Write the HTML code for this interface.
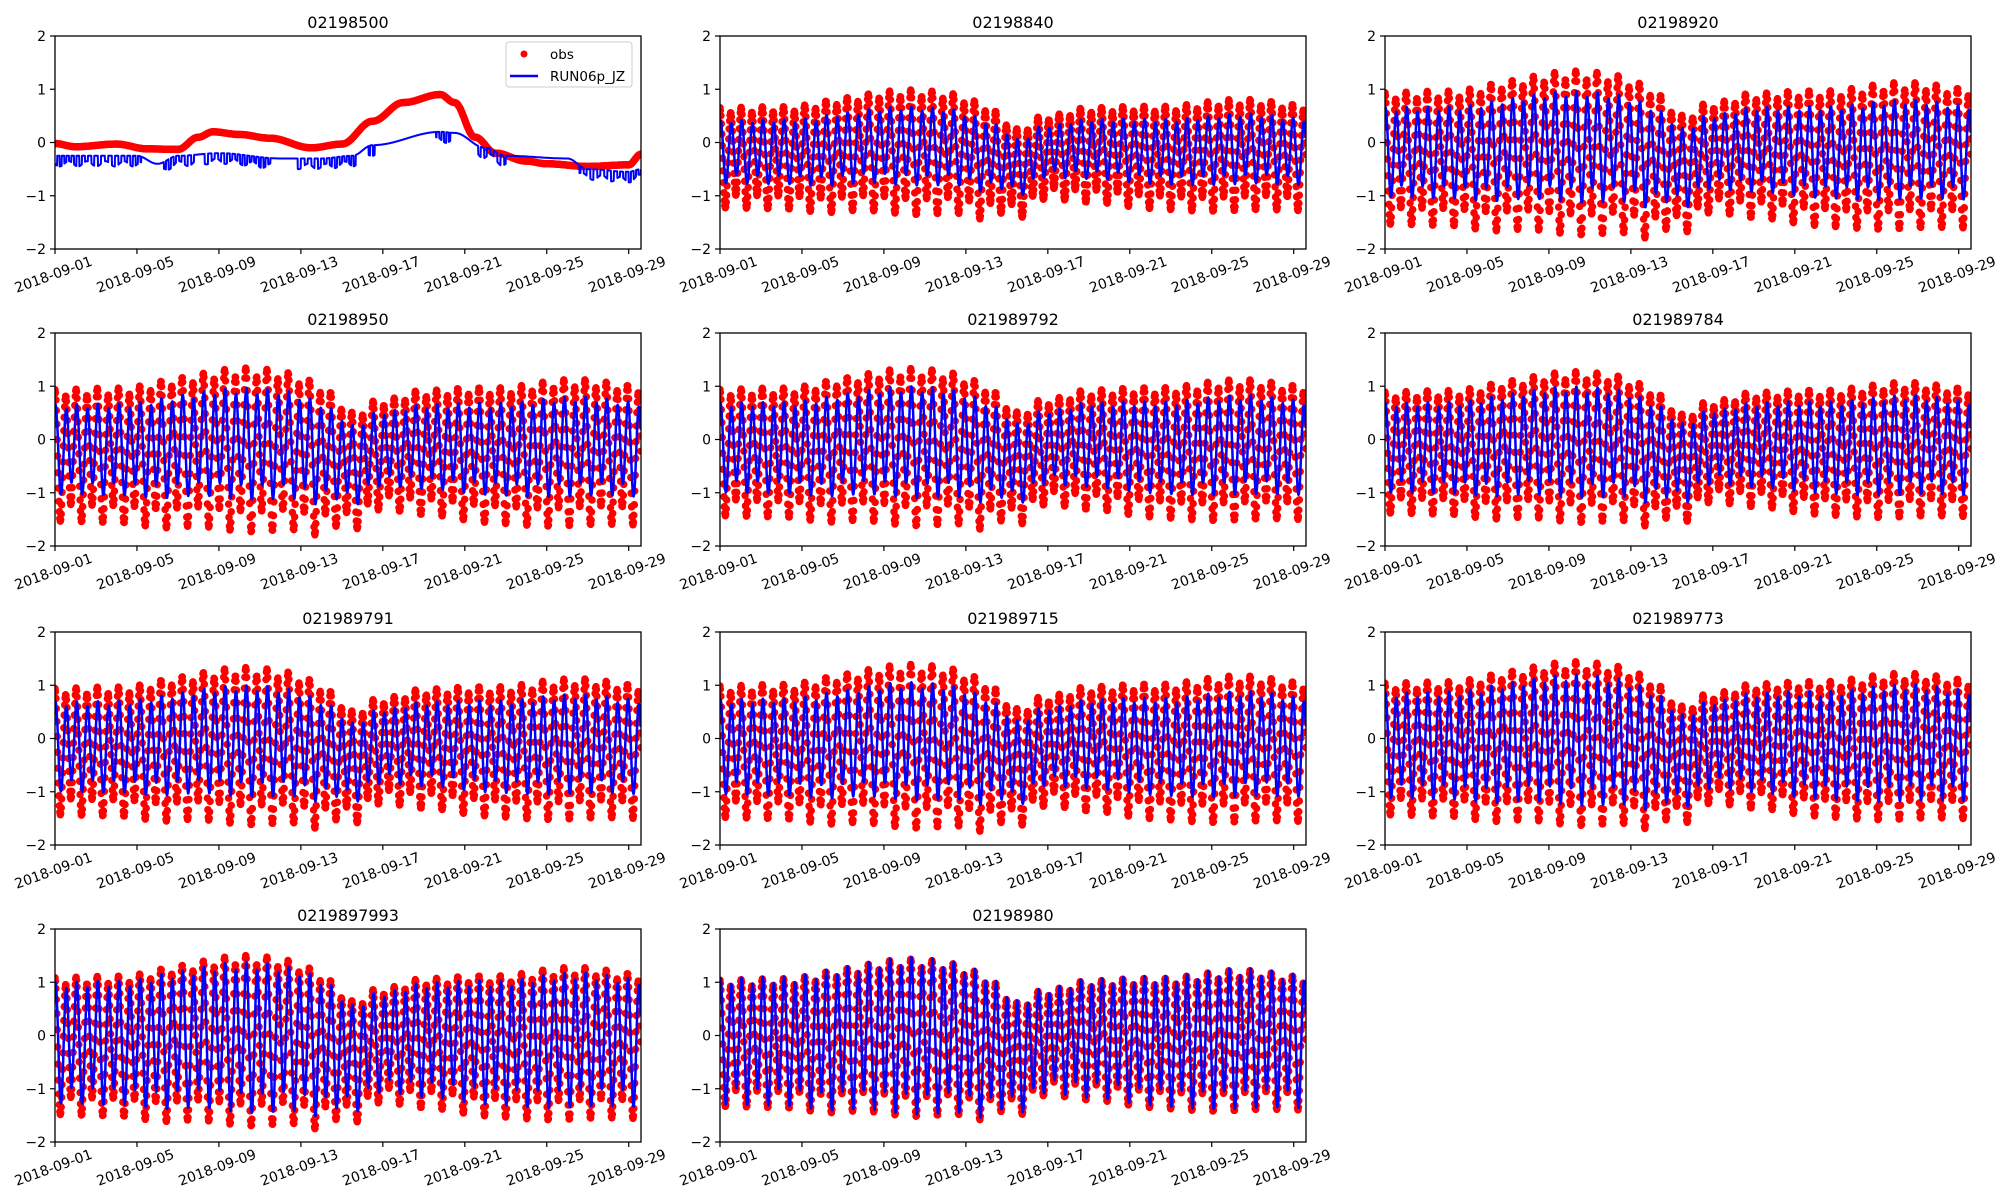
<!DOCTYPE html>
<html><head><meta charset="utf-8"><style>
html,body{margin:0;padding:0;background:#fff;}
svg{display:block;font-family:"DejaVu Sans","Liberation Sans",sans-serif;}
</style></head><body>
<svg id="s" width="2000" height="1200" xmlns="http://www.w3.org/2000/svg"></svg>
<script>
const S=document.getElementById('s');
let out='';
const cols=[55,720,1385], W=586;
const rows=[36,333,632,929], H=213;
const TMAX=28.6;
const panels=[
 {n:'02198500',special:true},
 {n:'02198840',oa:0.95,ma:0.6,mean:-0.25},
 {n:'02198920',oa:1.25,ma:0.85,mean:-0.25},
 {n:'02198950',oa:1.25,ma:0.85,mean:-0.25},
 {n:'021989792',oa:1.2,ma:0.85,mean:-0.2},
 {n:'021989784',oa:1.15,ma:0.85,mean:-0.2},
 {n:'021989791',oa:1.2,ma:0.85,mean:-0.2},
 {n:'021989715',oa:1.25,ma:0.9,mean:-0.2},
 {n:'021989773',oa:1.25,ma:1.0,mean:-0.15},
 {n:'0219897993',oa:1.3,ma:1.15,mean:-0.15},
 {n:'02198980',oa:1.2,ma:1.2,mean:-0.1}
];
function interp(pts,t){for(let i=1;i<pts.length;i++){if(t<=pts[i][0]){const a=pts[i-1],b=pts[i];const f=(t-a[0])/(b[0]-a[0]);const g=(1-Math.cos(Math.PI*f))/2;return a[1]+(b[1]-a[1])*g;}}return pts[pts.length-1][1];}
const sub=[[0,0],[4,0.0],[8,0.12],[11,0.1],[13.5,-0.1],[14.6,-0.3],[15.8,0.0],[18,0.05],[22,0],[26,0.06],[28.6,0]];
const envp=[[0,0.9],[3,0.92],[6,1.02],[9.5,1.12],[12.5,1.05],[14.5,0.8],[16,0.75],[18,0.85],[21,0.92],[25,1.0],[28.6,0.95]];
function tide(t,amp){const env=interp(envp,t);
 return amp*env*(Math.cos(2*Math.PI*t/0.5175)+0.15*Math.cos(2*Math.PI*t/1.035+1.2))+interp(sub,t);}
const o1=[[0,-0.02],[1,-0.08],[3,-0.03],[4.5,-0.12],[6,-0.13],[7,0.1],[7.7,0.2],[9,0.15],[10.5,0.08],[12.5,-0.1],[14,-0.03],[15.5,0.4],[17,0.75],[18.8,0.9],[19.5,0.75],[20.5,0.1],[21.5,-0.2],[23,-0.35],[24,-0.4],[26,-0.45],[28,-0.42],[28.6,-0.22]];
const m1=[[0,-0.25],[4,-0.25],[5,-0.4],[6,-0.25],[8,-0.2],[11,-0.3],[13,-0.3],[14.5,-0.25],[15.5,-0.05],[18.8,0.2],[19.5,0.18],[21,-0.1],[22,-0.25],[25,-0.3],[26,-0.5],[28,-0.55],[28.6,-0.5]];
const spikeR=[[0,4.2],[5.2,6.8],[7.2,10.6],[11.8,14.8],[15.3,15.6],[18.6,19.3],[20.6,22],[25.6,28.6]];
panels.forEach((p,i)=>{
 const x0=cols[i%3], y0=rows[Math.floor(i/3)];
 const X=t=>x0+t/TMAX*W, Y=v=>y0+H/2-v/4*H;
 let g='<clipPath id="c'+i+'"><rect x="'+x0+'" y="'+y0+'" width="'+W+'" height="'+H+'"/></clipPath><g clip-path="url(#c'+i+')">';
 let d='';
 const step=p.special?0.02:0.0215;
 for(let t=0;t<=TMAX;t+=step){
  let v=p.special?interp(o1,t):tide(t,p.oa)+p.mean;
  d+='M'+(X(t)-0.01).toFixed(1)+' '+Y(v).toFixed(1)+'h0.02';
 }
 g+='<path d="'+d+'" stroke="#ff0000" stroke-width="7.5" stroke-linecap="round" fill="none"/>';
 let l='';
 for(let t=0;t<=TMAX;t+=0.01){
  let v;
  if(p.special){v=interp(m1,t);let inS=spikeR.some(r=>t>=r[0]&&t<=r[1]);
   if(inS){const ph=(t*3.7+Math.sin(t*1.3)*0.6)%1; if(ph<0.45)v-=0.15+0.05*Math.sin(t*7);}}
  else v=tide(t-0.03,p.ma)+p.mean*0.6;
  l+=(l?'L':'M')+X(t).toFixed(1)+' '+Y(v).toFixed(1);
 }
 g+='<path d="'+l+'" stroke="#0000ff" stroke-width="'+(p.special?2:2.5)+'" fill="none" stroke-linejoin="round"/></g>';
 g+='<rect x="'+x0+'" y="'+y0+'" width="'+W+'" height="'+H+'" fill="none" stroke="#000" stroke-width="1.3"/>';
 g+='<text x="'+(x0+W/2)+'" y="'+(y0-8)+'" font-size="16" text-anchor="middle">'+p.n+'</text>';
 for(let k=-2;k<=2;k++){const y=Y(k);g+='<line x1="'+(x0-5)+'" x2="'+x0+'" y1="'+y+'" y2="'+y+'" stroke="#000" stroke-width="1.2"/>';
  g+='<text x="'+(x0-9)+'" y="'+(y+5)+'" font-size="14" text-anchor="end">'+(k<0?'\u2212'+(-k):k)+'</text>';}
 for(let k=0;k<8;k++){const d2=1+4*k,x=X(4*k);g+='<line x1="'+x+'" x2="'+x+'" y1="'+(y0+H)+'" y2="'+(y0+H+5)+'" stroke="#000" stroke-width="1.2"/>';
  g+='<text transform="translate('+x+','+(y0+H+30)+') rotate(-20)" font-size="14" text-anchor="middle">2018-09-'+String(d2).padStart(2,'0')+'</text>';}
 if(p.special){
  g+='<rect x="506" y="42" width="126" height="45" rx="3" fill="#fff" fill-opacity="0.8" stroke="#ccc"/>';
  g+='<circle cx="524" cy="54" r="3.5" fill="#ff0000"/><text x="550" y="59" font-size="13.5">obs</text>';
  g+='<line x1="510" x2="538" y1="76" y2="76" stroke="#0000ff" stroke-width="2.5"/><text x="550" y="81" font-size="13.5">RUN06p_JZ</text>';
 }
 out+=g;
});
S.innerHTML=out;
</script>
</body></html>
